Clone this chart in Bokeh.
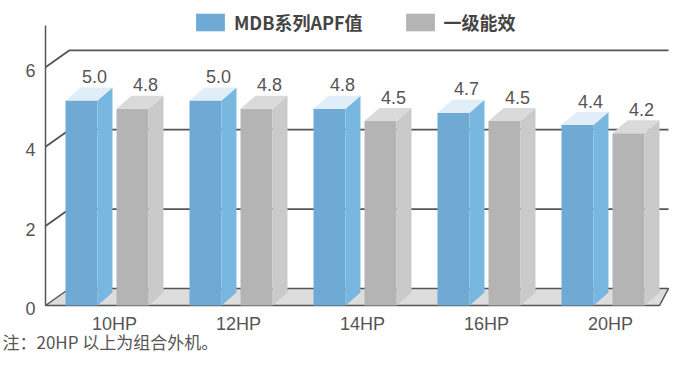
from bokeh.plotting import figure
from bokeh.models import ColumnDataSource, Range1d, Legend, LegendItem
from bokeh.core.properties import value
from bokeh.embed import file_html
from bokeh.resources import INLINE

# ---------------- data ----------------
categories = ["10HP", "12HP", "14HP", "16HP", "20HP"]
apf_values = [5.0, 5.0, 4.8, 4.7, 4.4]
level1_values = [4.8, 4.8, 4.5, 4.5, 4.2]
value_labels_apf = ["5.0", "5.0", "4.8", "4.7", "4.4"]
value_labels_lvl = ["4.8", "4.8", "4.5", "4.5", "4.2"]
y_ticks = [0, 2, 4, 6]
y_tick_labels = ["0", "2", "4", "6"]
series_names = ["MDB系列APF值", "一级能效"]
note_text = "注：20HP 以上为组合外机。"

# ---------------- layout / style ----------------
W, H = 669, 354
GX = 124.0        # px per category
SY = 39.7         # px per unit (walls / axis plane)
SB = 41.0         # px per unit (bar plane, slightly nearer)
X0 = 114.0        # canvas x of first category centre
Y0 = 305.0        # canvas y of value 0 on the front plane

def hx(px):
    return px / GX

def vy(px):
    return px / SY

def by(px):
    return px / SB

FONT = "Liberation Sans"
CJK = "Noto Sans CJK SC"
TXT = "#555555"
LINE = "#555555"

p = figure(width=W, height=H, output_backend="svg", toolbar_location=None,
           x_axis_location=None, y_axis_location=None,
           x_range=Range1d(-X0 / GX, (W - X0) / GX),
           y_range=Range1d((Y0 - H) / SY, Y0 / SY))
p.extra_y_ranges = {"bars": Range1d((Y0 - H) / SB, Y0 / SB)}
p.min_border = 0
p.min_border_left = p.min_border_right = p.min_border_top = p.min_border_bottom = 0
p.outline_line_color = None
p.grid.visible = False
p.background_fill_color = "white"
p.border_fill_color = "white"

# wall geometry (relative to first category centre)
left_front = hx(-69)
right_front = hx(545)
right_back = hx(554)
depth_x = hx(24)
depth_y = vy(17)
axis_top = 7.05

# left axis line
p.line([left_front, left_front], [0, axis_top], line_color=LINE, line_width=1.5)

# gridlines: diagonal on the left wall + horizontal on the back wall
gxs, gys = [], []
for t in y_ticks[1:]:
    gxs.append([left_front, left_front + depth_x, right_back])
    gys.append([t, t + depth_y, t + depth_y])
p.multi_line(gxs, gys, line_color=LINE, line_width=1.8)

# floor
p.patch([left_front, right_front, right_back, left_front + depth_x],
        [0, 0, depth_y, depth_y],
        fill_color="#dcdddc", line_color=LINE, line_width=1.5)

# y tick labels
p.text([left_front - hx(15)] * len(y_ticks), [t - vy(3) for t in y_ticks],
       text=y_tick_labels, text_align="center", text_baseline="middle",
       text_font=value(FONT), text_font_size="18px", text_color=TXT)

# category labels
p.text(list(range(len(categories))), [-vy(18)] * len(categories), text=categories,
       text_align="center", text_baseline="middle",
       text_font=value(FONT), text_font_size="18px", text_color=TXT)

# ---------------- 3D bars ----------------
BW = hx(32)
BDX = hx(15)
BDY = by(13)
series = [
    (apf_values, value_labels_apf, -49, "#6eaad3", "#78b7df", "#e1eef8"),
    (level1_values, value_labels_lvl, 2, "#b4b4b4", "#cacaca", "#dadada"),
]
front_renderers = []
for vals, labs, off, c_front, c_side, c_top in series:
    lefts = [i + hx(off) for i in range(len(vals))]
    rights = [l + BW for l in lefts]
    src = ColumnDataSource(dict(left=lefts, right=rights, top=vals,
                                bottom=[0] * len(vals)))
    r = p.quad(left="left", right="right", top="top", bottom="bottom", source=src,
               fill_color=c_front, line_color=None, y_range_name="bars")
    front_renderers.append(r)
    side_xs = [[rr, rr + BDX, rr + BDX, rr] for rr in rights]
    side_ys = [[0, BDY, v + BDY, v] for v in vals]
    p.patches(side_xs, side_ys, fill_color=c_side, line_color=None, y_range_name="bars")
    top_xs = [[l, rr, rr + BDX, l + BDX] for l, rr in zip(lefts, rights)]
    top_ys = [[v, v, v + BDY, v + BDY] for v in vals]
    p.patches(top_xs, top_ys, fill_color=c_top, line_color=None, y_range_name="bars")
    p.text([l + hx(29) for l in lefts], [v + by(24) for v in vals], text=labs,
           text_align="center", text_baseline="middle", y_range_name="bars",
           text_font=value(FONT), text_font_size="18px", text_color=TXT)

# ---------------- legend ----------------
legend = Legend(items=[LegendItem(label=series_names[0], renderers=[front_renderers[0]]),
                       LegendItem(label=series_names[1], renderers=[front_renderers[1]])],
                orientation="horizontal", location=(192, 319))
legend.glyph_width = 36
legend.glyph_height = 22
legend.label_height = 22
legend.label_standoff = 6
legend.spacing = 39
legend.padding = 0
legend.margin = 0
legend.border_line_color = None
legend.background_fill_alpha = 0
legend.label_text_font = CJK
legend.label_text_font_size = "18px"
legend.label_text_color = "#444444"
legend.label_text_font_style = "bold"
p.add_layout(legend)

# ---------------- note ----------------
p.text([-X0 / GX + hx(2)], [(Y0 - 341) / SY], text=[note_text], text_align="left",
       text_baseline="middle", text_font=value(CJK), text_font_size="17px",
       text_color=TXT)

open("out.html", "w").write(file_html(p, INLINE))
